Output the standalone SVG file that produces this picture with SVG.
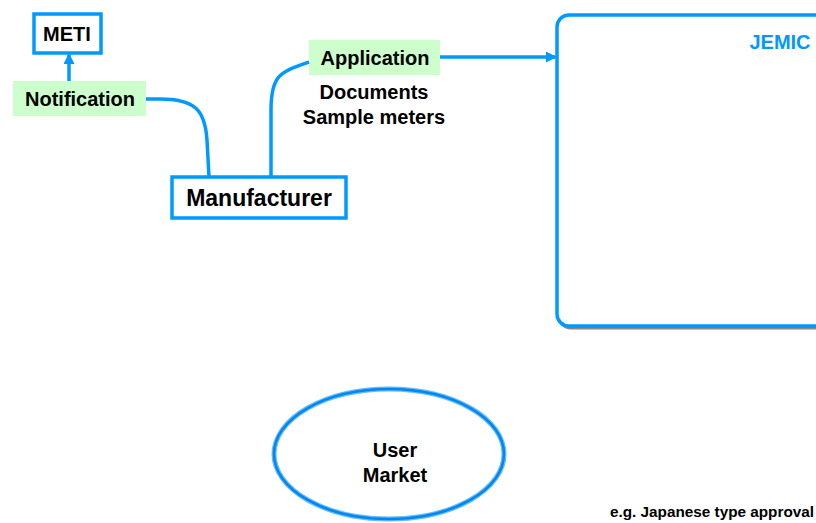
<svg xmlns="http://www.w3.org/2000/svg" width="816" height="523" viewBox="0 0 816 523">
<style>
.t{font-family:"Liberation Sans",Arial,sans-serif;font-weight:bold;fill:#000;text-anchor:middle}
.box{fill:#fff;stroke:#0099FF;stroke-width:3.5}
.lbl{fill:#CCFFCC}
.con{fill:none;stroke:#0099FF;stroke-width:3.5}
</style>
<defs>
<marker id="ah" markerWidth="11" markerHeight="11" refX="9" refY="5.5" orient="auto" markerUnits="userSpaceOnUse">
<path d="M0,0 L11,5.5 L0,11 z" fill="#0099FF"/>
</marker>
</defs>
<rect x="0" y="0" width="816" height="523" fill="#fff"/>
<g id="jemic">
<rect x="559" y="17" width="270" height="311" rx="12" fill="none" stroke="#888" stroke-width="3"/>
<rect x="557" y="15" width="270" height="311" rx="12" class="box"/>
<text x="780" y="49" class="t" style="fill:#0099FF;font-size:20px">JEMIC</text>
</g>
<g id="meti">
<rect x="34" y="14" width="67" height="39" class="box"/>
<text x="67" y="41" class="t" style="font-size:20px">METI</text>
</g>
<g id="notification">
<rect x="13" y="81" width="133" height="35" class="lbl"/>
<text x="80" y="106" class="t" style="font-size:20px">Notification</text>
</g>
<g id="manufacturer">
<rect x="172" y="177" width="174" height="41" class="box"/>
<text x="259" y="206" class="t" style="font-size:23px">Manufacturer</text>
</g>
<g id="application">
<rect x="309" y="40" width="131" height="35" class="lbl"/>
<text x="375" y="65" class="t" style="font-size:20px">Application</text>
<text x="374" y="99" class="t" style="font-size:20px">Documents</text>
<text x="374" y="124" class="t" style="font-size:20px">Sample meters</text>
</g>
<g id="user-market">
<ellipse cx="389" cy="454" rx="115" ry="65" fill="#fff" stroke="#66BBFF" stroke-width="5"/>
<ellipse cx="389" cy="454" rx="115" ry="65" fill="none" stroke="#0088EE" stroke-width="2.5"/>
<text x="395" y="457" class="t" style="font-size:20px">User</text>
<text x="395" y="482" class="t" style="font-size:20px">Market</text>
</g>
<g id="connectors">
<path d="M69,81 L69,55" class="con" marker-end="url(#ah)"/>
<path d="M146,99 L160,99 C195,99 205,110 207,140 L209,177" class="con"/>
<path d="M271,177 L271,110 C271,75 280,72 309,62" class="con"/>
<path d="M440,57 L555,57" class="con" marker-end="url(#ah)"/>
</g>
<text x="814" y="517" class="t" style="font-size:15.3px;text-anchor:end">e.g. Japanese type approval</text>
</svg>
